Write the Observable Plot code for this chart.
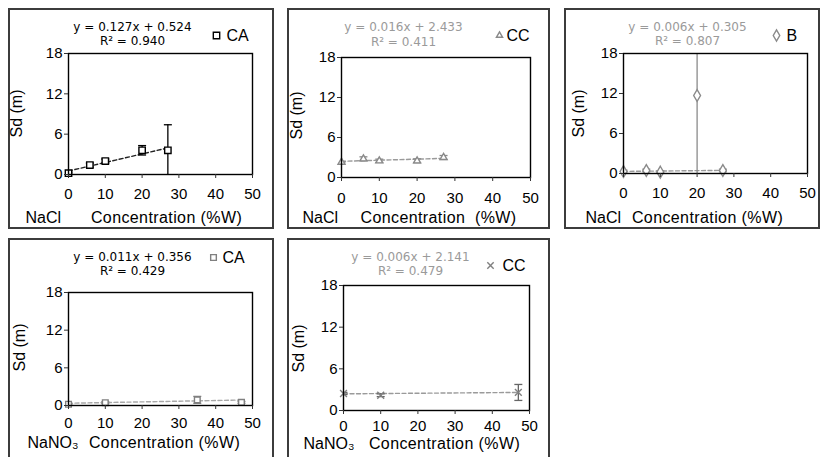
<!DOCTYPE html>
<html>
<head>
<meta charset="utf-8">
<script src="https://cdn.jsdelivr.net/npm/d3@7"></script>
<script src="https://cdn.jsdelivr.net/npm/@observablehq/plot@0.6"></script>
<style>
  html, body { margin: 0; padding: 0; background: #fff; }
  #chart { position: relative; width: 823px; height: 457px; overflow: hidden; background: #fff; }
  .box { position: absolute; box-sizing: border-box; border: 2px solid #3c3c3c; }
  #chart svg { position: absolute; overflow: visible; }
</style>
</head>
<body>
<div id="chart"></div>
<script>
// ---- tick labels ----
const xTicks = [0, 10, 20, 30, 40, 50];
const yTicks = [0, 6, 12, 18];

// ---- NaCl, CA ----
const naclCA_conc = [0, 5.8, 10, 20, 27];
const naclCA_sd   = [0.2, 1.4, 2.0, 3.6, 3.6];
const naclCA_err  = [0.15, 0.3, 0.3, 0.7, 3.8];
const naclCA_fitConc = [0, 27];
const naclCA_fitSd   = [0.52, 3.95];

// ---- NaCl, CC ----
const naclCC_conc = [0, 5.8, 10, 20, 27];
const naclCC_sd   = [2.3, 2.8, 2.5, 2.5, 3.0];
const naclCC_err  = [0.1, 0.3, 0.25, 0.3, 0.3];
const naclCC_fitConc = [0, 27];
const naclCC_fitSd   = [2.43, 2.87];

// ---- NaCl, B ----
const naclB_conc = [0, 6.2, 10, 20, 27];
const naclB_sd   = [0.3, 0.45, 0.2, 11.7, 0.45];
const naclB_err  = [0.2, 0.2, 0.2, 13, 0.2];
const naclB_fitConc = [0, 27];
const naclB_fitSd   = [0.31, 0.47];

// ---- NaNO3, CA ----
const nano3CA_conc = [0, 10, 35, 47];
const nano3CA_sd   = [0.2, 0.45, 0.9, 0.5];
const nano3CA_err  = [0.1, 0.15, 0.55, 0.15];
const nano3CA_fitConc = [0, 47];
const nano3CA_fitSd   = [0.36, 0.87];

// ---- NaNO3, CC ----
const nano3CC_conc = [0, 10, 47];
const nano3CC_sd   = [2.45, 2.2, 2.6];
const nano3CC_err  = [0.15, 0.2, 1.15];
const nano3CC_fitConc = [0, 47];
const nano3CC_fitSd   = [2.4, 2.6];

// ---- texts ----
const equations = [
  ["y = 0.127x + 0.524", "R² = 0.940"],
  ["y = 0.016x + 2.433", "R² = 0.411"],
  ["y = 0.006x + 0.305", "R² = 0.807"],
  ["y = 0.011x + 0.356", "R² = 0.429"],
  ["y = 0.006x + 2.141", "R² = 0.479"]
];
const seriesNames = ["CA", "CC", "B", "CA", "CC"];
const saltNames = ["NaCl", "NaCl", "NaCl", "NaNO₃", "NaNO₃"];
const xTitles = ["Concentration (%W)", "Concentration  (%W)", "Concentration (%W)", "Concentration (%W)", "Concentration (%W)"];
const yTitle = "Sd (m)";

const FONT = "'Liberation Sans', Arial, Helvetica, sans-serif";
const EQFONT = "'DejaVu Sans', 'Liberation Sans', sans-serif";
const capSymbol = {
  draw(ctx, size) { const r = Math.sqrt(size / Math.PI); ctx.moveTo(-r, 0); ctx.lineTo(r, 0); }
};

const panels = [
  { box: {l: 8, t: 8, w: 266, h: 221}, frame: {l: 68, r: 252, t: 53, b: 174}, pad: 10,
    conc: naclCA_conc, sd: naclCA_sd, err: naclCA_err, fitC: naclCA_fitConc, fitS: naclCA_fitSd,
    symbol: "square", r: 3.6, lr: 3.6, mark: "#000", errC: "#000", lineC: "#222", eqC: "#000",
    eqX: 132, eqY1: 26.5, eqY2: 40.5, legX: 216, legTX: 226, legY: 35,
    saltX: 25, labY: 217, concX: 166, ylX: 16, ylY: 113, eqi: 0 },
  { box: {l: 287, t: 8, w: 263, h: 221}, frame: {l: 341, r: 530, t: 57, b: 177}, pad: 11,
    conc: naclCC_conc, sd: naclCC_sd, err: naclCC_err, fitC: naclCC_fitConc, fitS: naclCC_fitSd,
    symbol: "triangle", r: 2.6, lr: 2.3, mark: "#8a8a8a", errC: "#8a8a8a", lineC: "#9a9a9a", eqC: "#9a9a9a",
    eqX: 403, eqY1: 27, eqY2: 42, legX: 499, legTX: 506, legY: 35,
    saltX: 302, labY: 217, concX: 438, ylX: 296, ylY: 115, eqi: 1 },
  { box: {l: 564, t: 8, w: 256, h: 221}, frame: {l: 623, r: 807, t: 53, b: 173}, pad: 10,
    conc: naclB_conc, sd: naclB_sd, err: naclB_err, fitC: naclB_fitConc, fitS: naclB_fitSd,
    symbol: "diamond", r: 3.6, lr: 3.4, mark: "#8a8a8a", errC: "#8a8a8a", lineC: "#9a9a9a", eqC: "#9a9a9a",
    eqX: 687, eqY1: 26.5, eqY2: 40.5, legX: 776, legTX: 786, legY: 35,
    saltX: 585, labY: 217, concX: 707, ylX: 578, ylY: 113, eqi: 2 },
  { box: {l: 8, t: 238, w: 266, h: 225}, frame: {l: 68, r: 252, t: 292, b: 405}, pad: 8,
    conc: nano3CA_conc, sd: nano3CA_sd, err: nano3CA_err, fitC: nano3CA_fitConc, fitS: nano3CA_fitSd,
    symbol: "square", r: 3.2, lr: 3.2, mark: "#808080", errC: "#808080", lineC: "#a8a8a8", eqC: "#000",
    eqX: 132, eqY1: 256.5, eqY2: 270.5, legX: 213, legTX: 222, legY: 257,
    saltX: 27, labY: 442, concX: 164, ylX: 19, ylY: 347, eqi: 3 },
  { box: {l: 287, t: 238, w: 263, h: 225}, frame: {l: 343, r: 529, t: 285, b: 410}, pad: 6,
    conc: nano3CC_conc, sd: nano3CC_sd, err: nano3CC_err, fitC: nano3CC_fitConc, fitS: nano3CC_fitSd,
    symbol: "times", r: 3.2, lr: 3, mark: "#808080", errC: "#666", lineC: "#9a9a9a", eqC: "#9a9a9a",
    eqX: 410, eqY1: 257, eqY2: 271, legX: 490, legTX: 502, legY: 265,
    saltX: 303, labY: 443, concX: 444, ylX: 298, ylY: 348, eqi: 4 }
];

const chart = document.getElementById("chart");

panels.forEach((p, k) => {
  const b = p.box, f = p.frame;
  const div = document.createElement("div");
  div.className = "box";
  Object.assign(div.style, {left: b.l + "px", top: b.t + "px", width: b.w + "px", height: b.h + "px"});
  chart.appendChild(div);

  const rows = p.conc.map((c, i) => ({c, s: p.sd[i], lo: p.sd[i] - p.err[i], hi: p.sd[i] + p.err[i]}));
  const fit = p.fitC.map((c, i) => ({c, s: p.fitS[i]}));
  const ax = (X) => X - f.l, ay = (Y) => Y - f.t;
  const txt = (s, X, Y, o = {}) => Plot.text([s], {text: d => d, frameAnchor: "top-left", dx: ax(X), dy: ay(Y), lineAnchor: "middle", ...o});

  const svg = Plot.plot({
    width: b.w, height: b.h,
    marginLeft: f.l - b.l, marginRight: b.l + b.w - f.r,
    marginTop: f.t - b.t, marginBottom: b.t + b.h - f.b,
    x: {domain: [0, 50], label: null},
    y: {domain: [0, 18], label: null},
    style: {fontFamily: FONT, fontSize: "15px", color: "#000", background: "transparent"},
    marks: [
      Plot.line(fit, {x: "c", y: "s", stroke: p.lineC, strokeWidth: 1.4, strokeDasharray: "4,2.5"}),
      Plot.ruleX(rows, {x: "c", y1: "lo", y2: "hi", stroke: p.errC, strokeWidth: 1.3, clip: true}),
      Plot.dot(rows, {x: "c", y: "hi", symbol: capSymbol, r: 4, stroke: p.errC, fill: "none", strokeWidth: 1.3, clip: true}),
      Plot.dot(rows, {x: "c", y: "lo", symbol: capSymbol, r: 4, stroke: p.errC, fill: "none", strokeWidth: 1.3, clip: true}),
      Plot.dot(rows, {x: "c", y: "s", symbol: p.symbol, r: p.r, stroke: p.mark, fill: p.symbol === "times" ? "none" : "white", strokeWidth: 1.4}),
      Plot.frame({stroke: "#000", strokeWidth: 1.4}),
      Plot.axisY({ticks: yTicks, tickSize: 4, tickPadding: 2, tickFormat: d => String(d), fontSize: 15, label: null, stroke: "#333"}),
      Plot.axisX({ticks: xTicks, tickSize: 4, tickPadding: p.pad, tickFormat: d => String(d), fontSize: 15, label: null, stroke: "#333"}),
      txt(equations[p.eqi][0], p.eqX, p.eqY1, {fill: p.eqC, fontSize: 12, fontFamily: EQFONT, textAnchor: "middle"}),
      txt(equations[p.eqi][1], p.eqX, p.eqY2, {fill: p.eqC, fontSize: 12, fontFamily: EQFONT, textAnchor: "middle"}),
      Plot.dot([0], {frameAnchor: "top-left", dx: ax(p.legX), dy: ay(p.legY), symbol: p.symbol, r: p.lr, stroke: p.mark, fill: "none", strokeWidth: 1.4}),
      txt(seriesNames[k], p.legTX, p.legY, {fill: "#000", fontSize: 16, textAnchor: "start"}),
      txt(saltNames[k], p.saltX, p.labY, {fill: "#000", fontSize: 16, textAnchor: "start"}),
      txt(xTitles[k], p.concX, p.labY, {fill: "#000", fontSize: 16, textAnchor: "middle"}),
      txt(yTitle, p.ylX, p.ylY, {fill: "#000", fontSize: 16, textAnchor: "middle", rotate: -90})
    ]
  });
  svg.querySelectorAll("text").forEach(t => {
    if (t.textContent.startsWith("Concentration")) { t.setAttribute("letter-spacing", "0.4"); t.setAttribute("xml:space", "preserve"); t.style.whiteSpace = "pre"; }
  });
  svg.style.left = b.l + "px";
  svg.style.top = b.t + "px";
  chart.appendChild(svg);
});
</script>
</body>
</html>
